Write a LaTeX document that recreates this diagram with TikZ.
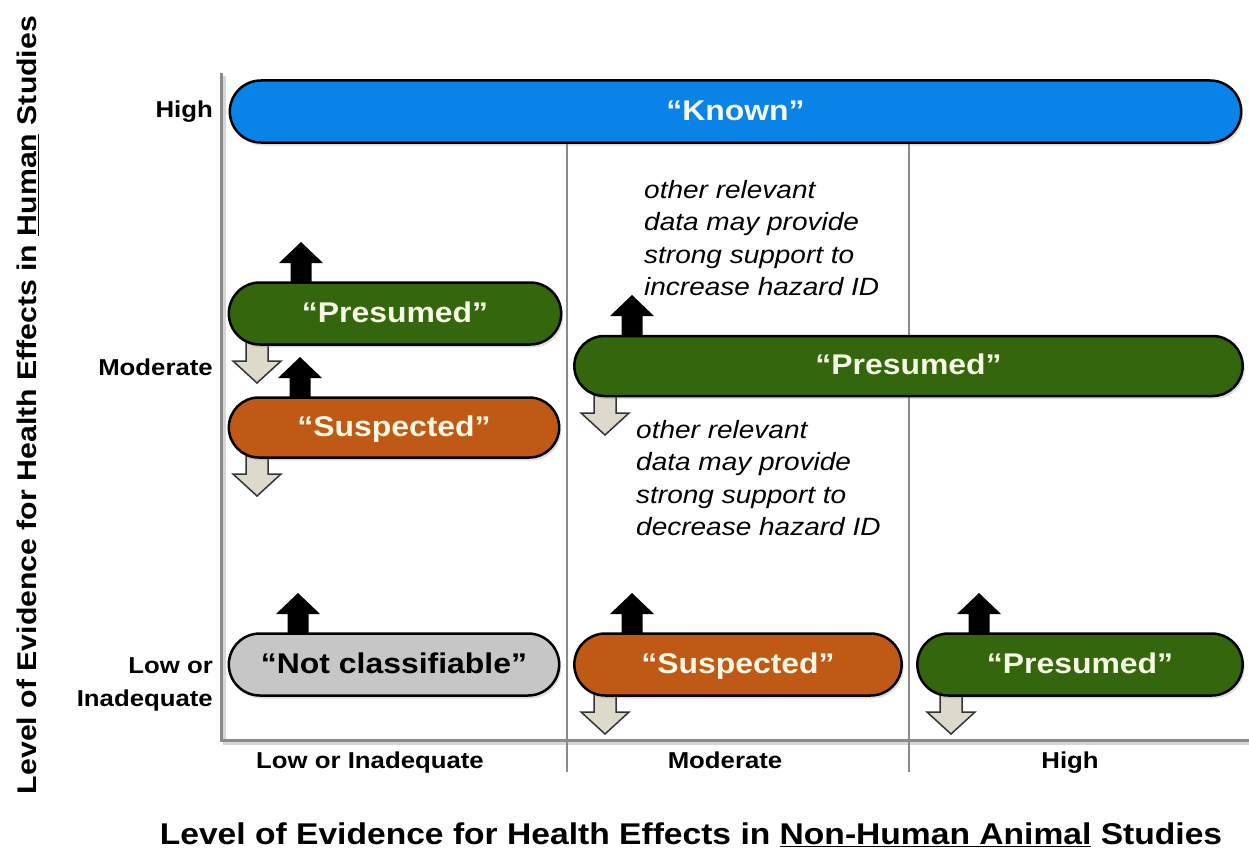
\documentclass[tikz,border=0pt]{standalone}
\usepackage{fontspec}
\setmainfont{Liberation Sans}[FakeStretch=1.12]
\usetikzlibrary{shapes.misc,shadows}
\definecolor{knownblue}{HTML}{0A83E8}
\definecolor{presgreen}{HTML}{34660E}
\definecolor{suspbrown}{HTML}{C05816}
\definecolor{ncgray}{HTML}{C6C6C6}
\definecolor{downfill}{HTML}{DDDACB}
\definecolor{bartext}{HTML}{F7F8E4}
\definecolor{axisgray}{HTML}{8A8A8A}

\begin{document}
\begin{tikzpicture}[x=1pt,y=-1pt,
  bar/.style={rounded rectangle,draw=black,line width=2.5pt,minimum height=62pt,text=bartext,font=\fontsize{28.5}{32}\selectfont\bfseries,text height=20.5pt,text depth=3pt,drop shadow={shadow xshift=2pt,shadow yshift=-3pt,opacity=0.25}},
  lvl/.style={font=\fontsize{23}{33}\selectfont\bfseries,align=right,anchor=east,inner sep=0pt},
  col/.style={font=\fontsize{23}{33}\selectfont\bfseries,inner sep=0pt,anchor=base},
  note/.style={font=\fontsize{25}{32.5}\selectfont\itshape,align=left,anchor=north west,inner sep=0pt},
  uparr/.pic={\fill (-10.5,3) -- (-10.5,-19) -- (-22,-19) -- (0,-40) -- (22,-19) -- (10.5,-19) -- (10.5,3) -- cycle;},
  downarr/.pic={\filldraw[fill=downfill,draw=black!80,line width=1.5pt] (-11,-3) -- (-11,16) -- (-24,16) -- (0,38) -- (24,16) -- (11,16) -- (11,-3) -- cycle;}]
\useasboundingbox (0,0) rectangle (1249,856);
\draw[axisgray!35,line width=3pt] (224,76) -- (224,743) -- (1249,743);
\draw[axisgray,line width=3pt] (221,73) -- (221,740) -- (1249,740);
\draw[axisgray,line width=1.2pt] (567,112) -- (567,772) (909,112) -- (909,772);
\pic at (301,282) {uparr};
\pic at (300,397) {uparr};
\pic at (632,335) {uparr};
\pic at (298,633) {uparr};
\pic at (632,633) {uparr};
\pic at (979,633) {uparr};
\pic at (257,345) {downarr};
\pic at (257,458) {downarr};
\pic at (605,397) {downarr};
\pic at (605,696) {downarr};
\pic at (951,696) {downarr};
\node[bar,fill=knownblue,minimum width=1018pt] (known) at (735.5,111.5) {“Known”};
\node[bar,fill=presgreen,minimum width=339pt] (presL) at (395,313.5) {“Presumed”};
\node[bar,fill=suspbrown,minimum width=337pt,minimum height=60pt] (suspL) at (394,427.5) {“Suspected”};
\node[bar,fill=presgreen,minimum width=675pt,minimum height=60pt] (presM) at (908.5,366) {“Presumed”};
\node[bar,fill=ncgray,text=black,minimum width=337pt] (notcl) at (394,664.5) {“Not classifiable”};
\node[bar,fill=suspbrown,minimum width=334pt] (suspLo) at (738,664.5) {“Suspected”};
\node[bar,fill=presgreen,minimum width=332pt] (presLo) at (1080,664.5) {“Presumed”};
\node[note] (incr) at (644,180) {other relevant\\data may provide\\strong support to\\increase hazard ID};
\node[note] (decr) at (636,420) {other relevant\\data may provide\\strong support to\\decrease hazard ID};
\node[lvl] (yhigh) at (213,112) {High};
\node[lvl] (ymod) at (213,367) {Moderate};
\node[lvl] (ylow) at (213,684) {Low or\\Inadequate};
\node[col] (xlow) at (370,768) {Low or Inadequate};
\node[col] (xmod) at (725,768) {Moderate};
\node[col] (xhigh) at (1070,768) {High};
\node[font=\fontsize{30}{34}\selectfont\bfseries] (xtitle) at (691,835) {Level of Evidence for Health Effects in \underline{Non-Human Animal} Studies};
\node[font=\fontsize{27}{30}\selectfont\bfseries,rotate=90] (ytitle) at (28,405) {Level of Evidence for Health Effects in \underline{Human} Studies};
\end{tikzpicture}
\end{document}
